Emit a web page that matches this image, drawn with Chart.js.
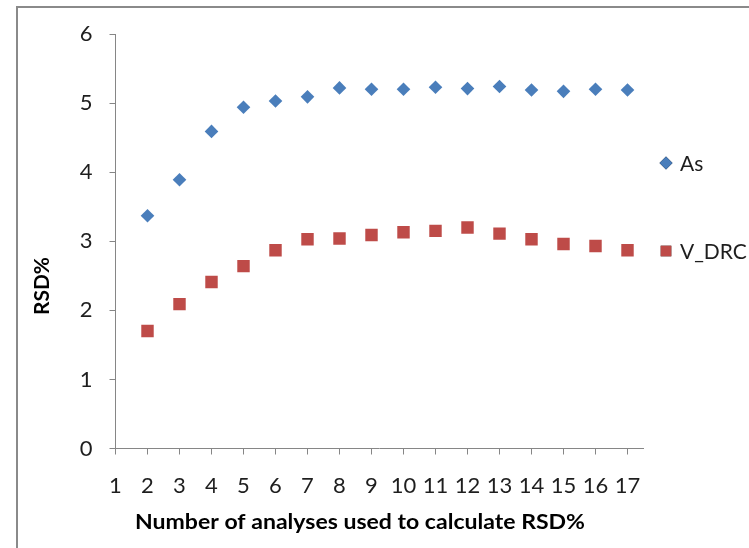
<!DOCTYPE html>
<html>
<head>
<meta charset="utf-8">
<script src="https://cdn.jsdelivr.net/npm/chart.js@4/dist/chart.umd.min.js"></script>
<style>
  html, body { margin: 0; padding: 0; background: #ffffff; }
  #wrap { width: 749px; height: 548px; position: relative; }
</style>
</head>
<body>
<div id="wrap"><canvas id="c" width="749" height="548"></canvas></div>
<script>
// Number of analyses (x) and the RSD% of each element (y)
const analyses = [2, 3, 4, 5, 6, 7, 8, 9, 10, 11, 12, 13, 14, 15, 16, 17];
const asRsd    = [3.37, 3.89, 4.59, 4.94, 5.03, 5.09, 5.22, 5.20, 5.20, 5.23, 5.21, 5.24, 5.19, 5.17, 5.20, 5.19];
const vDrcRsd  = [1.70, 2.09, 2.41, 2.64, 2.87, 3.03, 3.04, 3.09, 3.13, 3.15, 3.20, 3.11, 3.03, 2.96, 2.93, 2.87];
const seriesNames = ['As', 'V_DRC'];
const xTitle = 'Number of analyses used to calculate RSD%';
const yTitle = 'RSD%';

const FONT = 'Lato, "Open Sans", sans-serif';
const AXIS_GRAY = '#868686';
const TEXT = '#1e1e1e';

const toPoints = (ys) => analyses.map((x, i) => ({ x: x, y: ys[i] }));

// draw text centred at (x, y), stretched horizontally to a given width
function fillStretched(ctx, text, x, y, width) {
  const w = ctx.measureText(text).width;
  ctx.save();
  ctx.translate(x, y);
  ctx.scale(width / w, 1);
  ctx.fillText(text, 0, 0);
  ctx.restore();
}

// Frame, axis titles and the legend on the right
const decorations = {
  id: 'decorations',
  afterDraw(chart) {
    const ctx = chart.ctx;
    ctx.save();
    // outer frame
    ctx.strokeStyle = '#8a8a8a';
    ctx.lineWidth = 2;
    ctx.strokeRect(17, 7, 800, 600);

    // axis titles
    ctx.fillStyle = '#000';
    ctx.font = 'bold 20px ' + FONT;
    ctx.textAlign = 'center';
    ctx.textBaseline = 'middle';
    fillStretched(ctx, xTitle, 360, 523, 450);
    ctx.save();
    ctx.translate(43, 286);
    ctx.rotate(-Math.PI / 2);
    fillStretched(ctx, yTitle, 0, 0, 58);
    ctx.restore();

    // legend
    const items = [
      { name: seriesNames[0], ds: chart.data.datasets[0], y: 163 },
      { name: seriesNames[1], ds: chart.data.datasets[1], y: 251 }
    ];
    ctx.font = '21px ' + FONT;
    ctx.textAlign = 'left';
    items.forEach(it => {
      Chart.helpers.drawPoint(ctx, {
        pointStyle: it.ds.pointStyle,
        radius: it.ds.pointStyle === 'rect' ? 7.5 : 6.5,
        rotation: 0,
        borderWidth: 0
      }, 666, it.y);
      ctx.fillStyle = it.ds.backgroundColor;
      ctx.fill();
      ctx.fillStyle = TEXT;
      ctx.fillText(it.name, 680, it.y + 1);
    });
    ctx.restore();
  }
};

new Chart(document.getElementById('c'), {
  type: 'scatter',
  data: {
    datasets: [
      {
        label: seriesNames[0],
        data: toPoints(asRsd),
        pointStyle: 'rectRot',
        pointRadius: 6.8,
        pointHoverRadius: 6.8,
        backgroundColor: '#4a7ebb',
        borderColor: '#4a7ebb',
        borderWidth: 0,
        showLine: false
      },
      {
        label: seriesNames[1],
        data: toPoints(vDrcRsd),
        pointStyle: 'rect',
        pointRadius: 8.8,
        pointHoverRadius: 8.8,
        backgroundColor: '#be4b48',
        borderColor: '#be4b48',
        borderWidth: 0,
        showLine: false
      }
    ]
  },
  options: {
    responsive: false,
    animation: false,
    events: [],
    layout: { padding: { left: 0, top: 34, right: 105.5, bottom: 0 } },
    plugins: {
      legend: { display: false },
      tooltip: { enabled: false }
    },
    scales: {
      x: {
        type: 'linear',
        min: 1,
        max: 17.5,
        afterFit(scale) { scale.height = 99.5; },
        border: { display: true, color: AXIS_GRAY, width: 1 },
        grid: { drawOnChartArea: false, drawTicks: true, tickLength: 6, tickColor: AXIS_GRAY },
        ticks: {
          stepSize: 1,
          includeBounds: false,
          autoSkip: false,
          maxRotation: 0,
          padding: 18,
          color: TEXT,
          font: { family: FONT, size: 22 },
          callback: (v) => String(v)
        }
      },
      y: {
        type: 'linear',
        min: 0,
        max: 6,
        afterFit(scale) { scale.width = 115.5; },
        border: { display: true, color: AXIS_GRAY, width: 1 },
        grid: { drawOnChartArea: false, drawTicks: true, tickLength: 6, tickColor: AXIS_GRAY },
        ticks: {
          stepSize: 1,
          padding: 17,
          color: TEXT,
          font: { family: FONT, size: 22 }
        }
      }
    }
  },
  plugins: [decorations]
});
</script>
</body>
</html>
